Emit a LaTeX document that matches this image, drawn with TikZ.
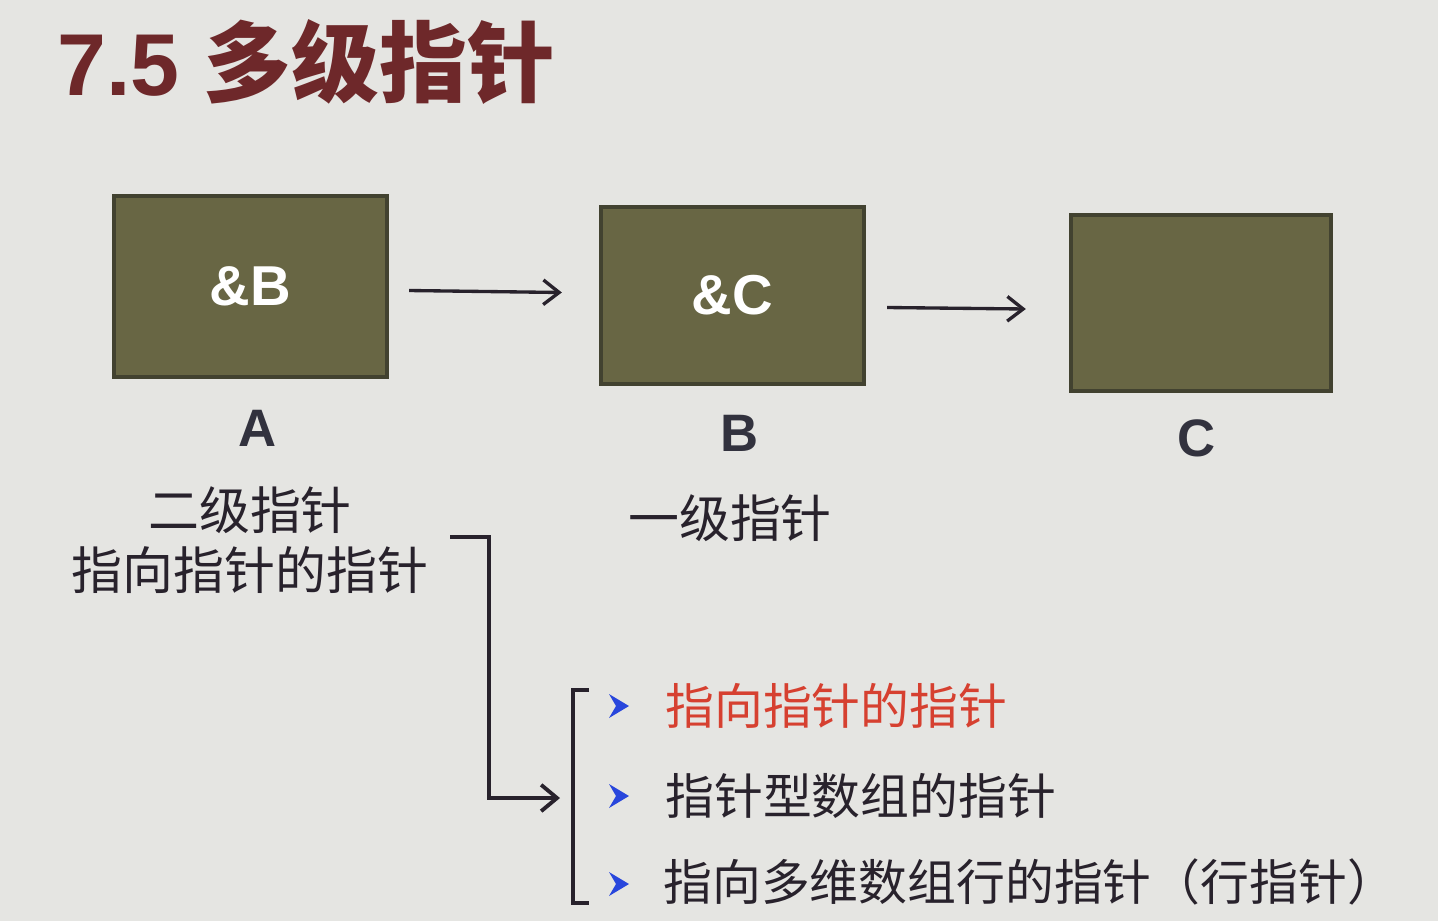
\documentclass[tikz,border=0pt]{standalone}
\usepackage{fontspec}
\setmainfont{Liberation Sans}
\newfontfamily\cjk{Noto Sans CJK SC}
\usetikzlibrary{arrows.meta,calc}
\definecolor{bgc}{RGB}{229,229,226}
\definecolor{boxfill}{RGB}{104,102,68}
\definecolor{boxline}{RGB}{66,66,48}
\definecolor{titlec}{RGB}{110,40,42}
\definecolor{labelc}{RGB}{50,50,62}
\definecolor{inkc}{RGB}{40,34,44}
\definecolor{hotc}{RGB}{214,64,48}
\definecolor{bulletc}{RGB}{40,70,220}
\tikzset{
  membox/.style={draw=boxline, line width=2.5pt, fill=boxfill, inner sep=0pt,
    text=white, font=\fontsize{32}{32}\selectfont\bfseries},
  varname/.style={text=labelc, font=\fontsize{30}{30}\selectfont\bfseries},
  cjktext/.style={text=inkc, font=\cjk\fontsize{29}{32}\selectfont, inner sep=0pt},
  listtext/.style={text=inkc, font=\cjk\fontsize{27.8}{32}\selectfont, inner sep=0pt, anchor=west},
  ptr/.style={draw=inkc, line width=1.9pt, -{Straight Barb[length=9pt,width=14pt,line width=1.9pt]}},
  bullet/.style={fill=bulletc, draw=none},
}
\begin{document}
\begin{tikzpicture}[x=0.02cm,y=-0.02cm]
  % canvas
  \fill[bgc] (0,0) rectangle (1438,921);
  \useasboundingbox (0,0) rectangle (1438,921);

  % heading
  \node[anchor=west, inner sep=0pt, text=titlec] (title) at (57,62)
    {\fontsize{50}{50}\selectfont\bfseries 7.5 {\cjk\bfseries 多级指针}};

  % the three memory cells
  \node[membox, minimum width=5.46cm, minimum height=3.62cm] (A) at (250.5,286.5) {\&B};
  \node[membox, minimum width=5.26cm, minimum height=3.54cm] (B) at (732.5,295.5) {\&C};
  \node[membox, minimum width=5.20cm, minimum height=3.52cm] (C) at (1201,303) {};

  % pointer arrows between the cells
  \draw[ptr] ($(A.east)+(20,4)$) -- ($(B.west)+(-37,-3)$);
  \draw[ptr] ($(B.east)+(21,12)$) -- ($(C.west)+(-43,6)$);

  % variable names
  \node[varname] (An) at (258,428) {A};
  \node[varname] (Bn) at (740,433) {B};
  \node[varname] (Cn) at (1197,438) {C};

  % descriptions
  \node[cjktext] (d2a) at (250,510) {二级指针};
  \node[cjktext] (d2b) at (250,570) {指向指针的指针};
  \node[cjktext] (d1) at (730,518) {一级指针};

  % list bracket
  \coordinate (k0) at (589,690);
  \coordinate (k1) at (573,690);
  \coordinate (k2) at (573,903);
  \coordinate (k3) at (589,903);
  \draw[draw=inkc, line width=1.8pt] (k0) -- (k1) -- (k2) -- (k3);

  % elbow connector from the description to the list bracket
  \coordinate (e0) at (450,537);
  \coordinate (e1) at (489,537);
  \coordinate (e2) at (489,798);
  \draw[draw=inkc, line width=2.2pt, line join=miter, shorten >=0.26cm,
        -{Straight Barb[length=9pt,width=15pt,line width=2.2pt]}]
        (e0) -- (e1) -- (e2) -- (e2 -| k1);

  % bullet marks
  \foreach \yy/\nm in {706/m1, 796/m2, 884/m3}{
    \fill[bullet] (609,\yy-12) -- (629,\yy) -- (609,\yy+12) -- (616,\yy) -- cycle;
    \coordinate (\nm) at (618,\yy);
  }

  % list items
  \node[listtext, text=hotc] (i1) at (665,706) {指向指针的指针};
  \node[listtext] (i2) at (665,796) {指针型数组的指针};
  \node[listtext] (i3) at (663,882) {指向多维数组行的指针（行指针）};
\end{tikzpicture}
\end{document}
